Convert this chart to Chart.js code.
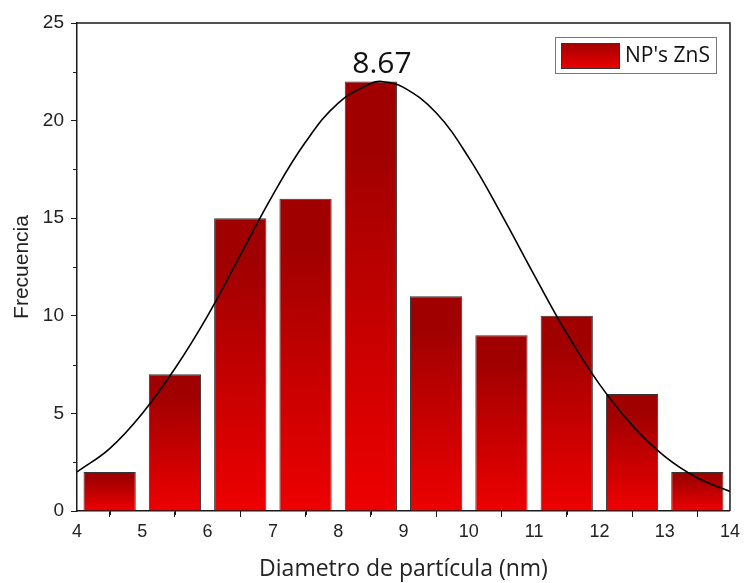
<!DOCTYPE html>
<html><head><meta charset="utf-8">
<script src="https://cdn.jsdelivr.net/npm/chart.js@4/dist/chart.umd.min.js"></script>
<style>html,body{margin:0;padding:0;background:#fff}#wrap{width:744px;height:583px}</style>
</head><body><div id="wrap"><canvas id="c" width="744" height="583"></canvas></div>
<script>
// ---- data ----
const binCenters = [4.5, 5.5, 6.5, 7.5, 8.5, 9.5, 10.5, 11.5, 12.5, 13.5];
const frequencies = [2, 7, 15, 16, 22, 11, 9, 10, 6, 2];
const fitX = [4, 4.5, 5, 5.5, 6, 6.5, 7, 7.5, 8, 8.5, 8.67, 9, 9.5, 10, 10.5, 11, 11.5, 12, 12.5, 13, 13.5, 14];
const fitY = [2.0, 3.2, 5.0, 7.3, 10.0, 13.1, 16.2, 18.9, 20.9, 21.9, 22.0, 21.7, 20.4, 18.1, 15.2, 12.1, 9.1, 6.5, 4.4, 2.8, 1.7, 1.0];
const peakLabel = '8.67';
const peakX = 8.67;
const peakY = 22;
const seriesName = "NP's ZnS";
const xTitle = 'Diametro de partícula (nm)';
const yTitle = 'Frecuencia';

const AXIS = '#1a1a1a';
const TOP_RED = '#a00000';
const BOT_RED = '#ee0000';

function barFill(ctx) {
  const chart = ctx.chart;
  const ys = chart.scales && chart.scales.y;
  if (!ys || ctx.type !== 'data') return '#c00000';
  const v = ctx.parsed ? ctx.parsed.y : (ctx.raw && ctx.raw.y);
  const top = ys.getPixelForValue(v), bot = ys.getPixelForValue(0);
  if (!isFinite(top) || !isFinite(bot) || top === bot) return '#c00000';
  const g = chart.ctx.createLinearGradient(0, top, 0, bot);
  g.addColorStop(0, TOP_RED);
  g.addColorStop(0.15, TOP_RED);
  g.addColorStop(1, BOT_RED);
  return g;
}

const decorPlugin = {
  id: 'decor',
  afterDraw(chart) {
    const {ctx, chartArea: a, scales: {x, y}} = chart;
    ctx.save();
    // frame top and right
    ctx.strokeStyle = AXIS; ctx.lineWidth = 1.5;
    ctx.beginPath();
    ctx.moveTo(a.left, a.top); ctx.lineTo(a.right, a.top); ctx.lineTo(a.right, a.bottom);
    ctx.stroke();
    // minor ticks
    ctx.lineWidth = 1;
    ctx.beginPath();
    for (let v = 4.5; v < 14; v += 1) {
      const px = Math.round(x.getPixelForValue(v)) + 0.5;
      ctx.moveTo(px, a.bottom); ctx.lineTo(px, a.bottom + 4);
    }
    for (let v = 2.5; v < 25; v += 5) {
      const py = Math.round(y.getPixelForValue(v)) + 0.5;
      ctx.moveTo(a.left, py); ctx.lineTo(a.left - 4, py);
    }
    ctx.stroke();
    // peak label
    ctx.fillStyle = '#111';
    ctx.font = '30px "Open Sans"';
    ctx.textAlign = 'center'; ctx.textBaseline = 'alphabetic';
    ctx.fillText(peakLabel, x.getPixelForValue(peakX), y.getPixelForValue(peakY) - 9);
    // legend
    const lx = 555, ly = 37, lw = 161, lh = 36;
    ctx.fillStyle = '#fff';
    ctx.fillRect(lx, ly, lw, lh);
    ctx.strokeStyle = '#777'; ctx.lineWidth = 1;
    ctx.strokeRect(lx + 0.5, ly + 0.5, lw, lh);
    const sx = 561, sy = 43, sw = 59, sh = 26;
    const g = ctx.createLinearGradient(0, sy, 0, sy + sh);
    g.addColorStop(0, TOP_RED); g.addColorStop(1, BOT_RED);
    ctx.fillStyle = g;
    ctx.fillRect(sx, sy, sw, sh);
    ctx.strokeStyle = '#333';
    ctx.strokeRect(sx + 0.5, sy + 0.5, sw - 1, sh - 1);
    ctx.fillStyle = '#111';
    ctx.font = '21px "Open Sans"';
    ctx.textAlign = 'left'; ctx.textBaseline = 'middle';
    ctx.fillText(seriesName, 625, ly + lh / 2 + 1);
    ctx.restore();
  }
};

new Chart(document.getElementById('c'), {
  type: 'bar',
  data: {
    datasets: [
      {
        type: 'line',
        label: 'fit',
        data: fitX.map((x, i) => ({x, y: fitY[i]})),
        borderColor: '#000',
        borderWidth: 1.6,
        pointRadius: 0,
        tension: 0.4,
        fill: false,
        order: 0
      },
      {
        type: 'bar',
        label: seriesName,
        data: binCenters.map((x, i) => ({x, y: frequencies[i]})),
        backgroundColor: barFill,
        borderColor: 'rgba(30,30,30,0.9)',
        borderWidth: 1,
        barPercentage: 0.8,
        categoryPercentage: 1,
        order: 1
      }
    ]
  },
  options: {
    responsive: false,
    animation: false,
    devicePixelRatio: 1,
    layout: {padding: {top: 23, right: 12, left: 0, bottom: 0}},
    plugins: {legend: {display: false}, tooltip: {enabled: false}},
    scales: {
      x: {
        type: 'linear', min: 4, max: 14, offset: false,
        afterFit: s => { s.height = 72; },
        ticks: {stepSize: 1, color: '#222', padding: 4, maxRotation: 0,
                font: {family: '"Liberation Sans", Arial', size: 18}},
        grid: {drawOnChartArea: false, tickLength: 6, color: AXIS, tickWidth: 1},
        border: {color: AXIS, width: 1.5},
        title: {display: true, text: xTitle, color: '#222',
                font: {family: '"Open Sans"', size: 23}, padding: {top: 0, bottom: 0}}
      },
      y: {
        min: 0, max: 25,
        afterFit: s => { s.width = 77; },
        ticks: {stepSize: 5, color: '#222', padding: 7,
                font: {family: '"Liberation Sans", Arial', size: 19}},
        grid: {drawOnChartArea: false, tickLength: 6, color: AXIS, tickWidth: 1},
        border: {color: AXIS, width: 1.5},
        title: {display: true, text: yTitle, color: '#222',
                font: {family: '"Liberation Sans", Arial', size: 21}, padding: {top: 10, bottom: 0}}
      }
    }
  },
  plugins: [decorPlugin]
});
</script>
</body></html>
